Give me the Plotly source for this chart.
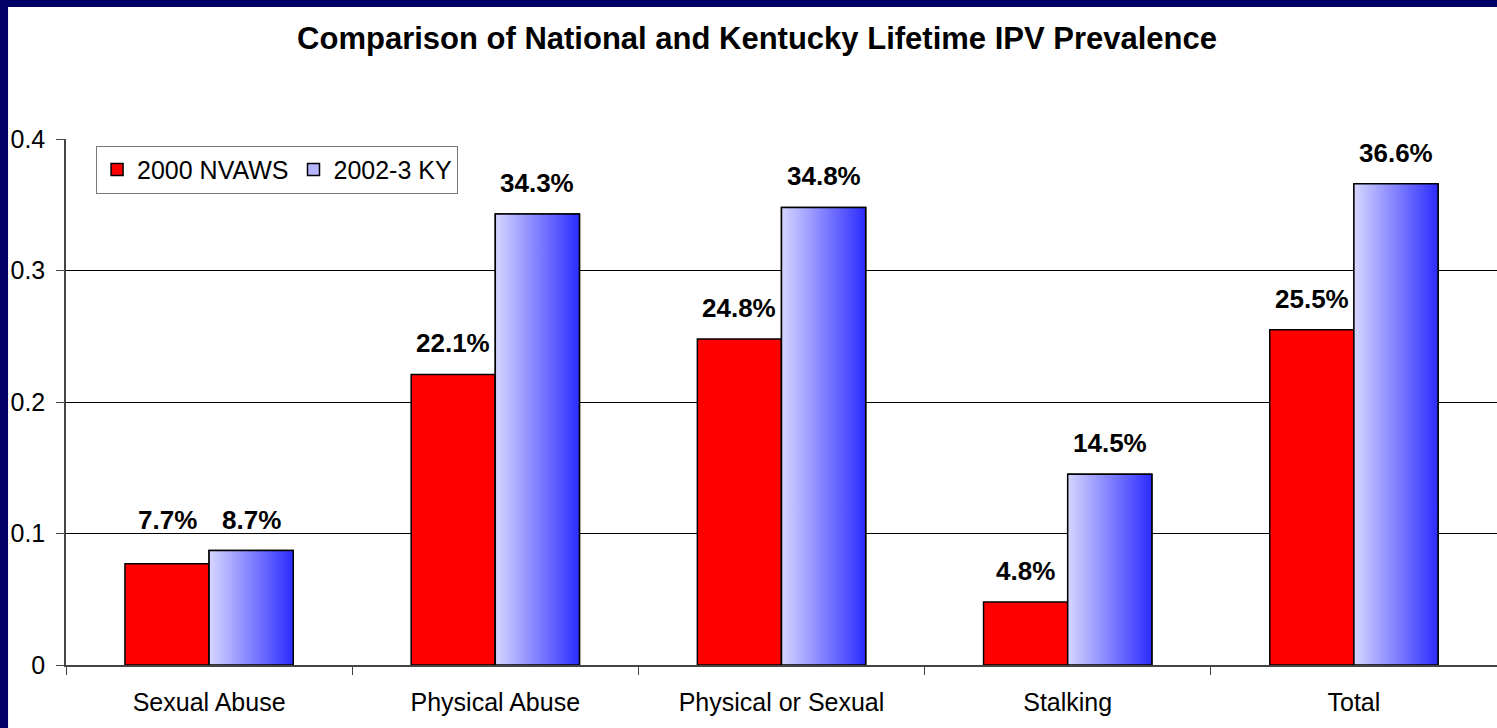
import plotly.graph_objects as go

categories = ["Sexual Abuse", "Physical Abuse", "Physical or Sexual", "Stalking", "Total"]
nvaws_2000 = [0.077, 0.221, 0.248, 0.048, 0.255]
ky_2002_3 = [0.087, 0.343, 0.348, 0.145, 0.366]
y_ticks = [0, 0.1, 0.2, 0.3, 0.4]
y_tick_labels = ["0", "0.1", "0.2", "0.3", "0.4"]

FONT = "Liberation Sans, Arial, sans-serif"
NAVY = "#000066"
BAR_W = 0.294
xs = list(range(len(categories)))

fig = go.Figure()
fig.add_trace(go.Bar(
    x=xs, y=nvaws_2000, name="2000 NVAWS", width=BAR_W, offset=-BAR_W,
    marker=dict(color="#ff0000", line=dict(color="black", width=1.5)),
))
fig.add_trace(go.Bar(
    x=xs, y=ky_2002_3, name="2002-3 KY", width=BAR_W, offset=0,
    marker=dict(color="#b4b4ff", line=dict(color="black", width=1.5)),
))

# gradient overlay for the KY bars (bars themselves can't take gradients)
for x, v in zip(xs, ky_2002_3):
    fig.add_trace(go.Scatter(
        x=[x, x + BAR_W, x + BAR_W, x, x], y=[0, 0, v, v, 0],
        mode="lines", fill="toself",
        fillgradient=dict(type="horizontal", colorscale=[[0, "#d6d6ff"], [1, "#2c2cff"]]),
        line=dict(color="black", width=1.5),
        showlegend=False, hoverinfo="skip",
    ))

# value labels; when the two bars are nearly equal the labels share one height
for x, a, b in zip(xs, nvaws_2000, ky_2002_3):
    ya = b if abs(b - a) < 0.02 else a
    for xx, yy, v in ((x - BAR_W / 2, ya, a), (x + BAR_W / 2, b, b)):
        fig.add_annotation(
            x=xx, y=yy, text=f"<b>{v * 100:.1f}%</b>", showarrow=False,
            yshift=31, font=dict(size=26, color="black", family=FONT),
        )

fig.update_layout(
    width=1497, height=728,
    margin=dict(l=66, r=0, t=139, b=63),
    paper_bgcolor="white", plot_bgcolor="rgba(0,0,0,0)",
    font=dict(family=FONT, size=25, color="black"),
    title=dict(
        text="<b>Comparison of National and Kentucky Lifetime IPV Prevalence</b>",
        xref="container", yref="container", x=0.5057, y=0.948,
        xanchor="center", yanchor="middle", font=dict(size=31),
    ),
    barmode="overlay",
    showlegend=True,
    legend=dict(
        orientation="h", x=0.021, y=0.987, xanchor="left", yanchor="top",
        bgcolor="white", bordercolor="#777", borderwidth=1,
        font=dict(size=25), itemwidth=30, traceorder="normal",
    ),
    xaxis=dict(
        type="linear", range=[-0.5, len(categories) - 0.5],
        tickvals=xs, ticktext=categories, ticks="", ticklabelstandoff=14,
        showgrid=False, zeroline=False,
        showline=True, linecolor="#444", linewidth=1.5,
        minor=dict(tickvals=[i - 0.5 for i in range(len(categories) + 1)],
                   ticks="outside", ticklen=8, tickcolor="#444", showgrid=False),
    ),
    yaxis=dict(
        range=[0, 0.4], tickvals=y_ticks, ticktext=y_tick_labels,
        ticks="outside", ticklen=8, tickcolor="#444", ticklabelstandoff=6,
        showline=True, linecolor="#444", linewidth=1.5,
        showgrid=True, gridcolor="black", gridwidth=1, zeroline=False,
    ),
    shapes=[
        dict(type="rect", xref="paper", yref="paper", x0=-0.1, x1=1.1, y0=1.251, y1=1.4,
             fillcolor=NAVY, line=dict(width=0), layer="above"),
        dict(type="rect", xref="paper", yref="paper", x0=-0.1, x1=-0.0405, y0=-0.3, y1=1.4,
             fillcolor=NAVY, line=dict(width=0), layer="above"),
    ],
)

fig.write_html(
    "out.html",
    config={"displayModeBar": False},
    post_script="document.body.style.margin='0';document.body.style.overflow='hidden';",
)
